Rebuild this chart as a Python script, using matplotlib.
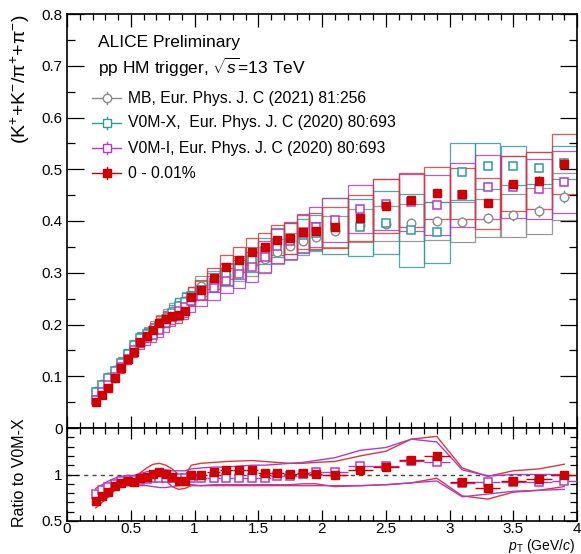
import matplotlib
matplotlib.use("Agg")
import matplotlib.pyplot as plt
import numpy as np
from matplotlib.patches import Rectangle
from matplotlib.ticker import MultipleLocator, FixedLocator, NullFormatter
from matplotlib.lines import Line2D

plt.rcParams['font.family'] = ['Liberation Sans', 'DejaVu Sans']
plt.rcParams['mathtext.fontset'] = 'custom'
plt.rcParams['mathtext.rm'] = 'Liberation Sans'
plt.rcParams['mathtext.it'] = 'Liberation Sans:italic'
plt.rcParams['mathtext.bf'] = 'Liberation Sans:bold'

# ---------------- data ----------------
pt_edges = [0.20, 0.25, 0.30, 0.35, 0.40, 0.45, 0.50, 0.55, 0.60, 0.65, 0.70,
            0.75, 0.80, 0.85, 0.90, 0.95, 1.00, 1.10, 1.20, 1.30, 1.40, 1.50,
            1.60, 1.70, 1.80, 1.90, 2.00, 2.20, 2.40, 2.60, 2.80, 3.00, 3.20,
            3.40, 3.60, 3.80, 4.00]

# 0 - 0.01 %
hm_val = [0.0495, 0.064, 0.078, 0.0965, 0.115, 0.133, 0.147, 0.167, 0.178, 0.190,
          0.203, 0.211, 0.216, 0.218, 0.227, 0.254, 0.267, 0.289, 0.311, 0.325,
          0.341, 0.349, 0.363, 0.367, 0.378, 0.380, 0.388, 0.406, 0.429, 0.441,
          0.454, 0.453, 0.434, 0.472, 0.478, 0.510]
hm_stat = [0.001, 0.001, 0.001, 0.001, 0.001, 0.001, 0.001, 0.001, 0.001, 0.001,
           0.001, 0.001, 0.001, 0.001, 0.001, 0.002, 0.002, 0.002, 0.002, 0.002,
           0.002, 0.003, 0.003, 0.003, 0.003, 0.004, 0.003, 0.004, 0.004, 0.005,
           0.006, 0.006, 0.007, 0.008, 0.009, 0.010]
hm_sys = [0.004, 0.005, 0.006, 0.007, 0.008, 0.009, 0.010, 0.011, 0.012, 0.013,
          0.014, 0.015, 0.015, 0.016, 0.016, 0.018, 0.019, 0.021, 0.023, 0.024,
          0.026, 0.027, 0.029, 0.031, 0.033, 0.035, 0.040, 0.045, 0.052, 0.052,
          0.051, 0.050, 0.050, 0.053, 0.055, 0.058]

# V0M-X
v0x_val = [0.0697, 0.083, 0.096, 0.110, 0.126, 0.143, 0.160, 0.174, 0.182, 0.188,
           0.198, 0.210, 0.223, 0.235, 0.244, 0.255, 0.267, 0.281, 0.297, 0.310,
           0.325, 0.342, 0.358, 0.366, 0.372, 0.377, 0.391, 0.388, 0.397, 0.382,
           0.378, 0.495, 0.506, 0.507, 0.502, 0.513]
v0x_stat = [0.001, 0.001, 0.001, 0.001, 0.001, 0.001, 0.001, 0.001, 0.001, 0.001,
            0.001, 0.001, 0.001, 0.001, 0.001, 0.002, 0.002, 0.002, 0.002, 0.002,
            0.002, 0.002, 0.003, 0.003, 0.003, 0.003, 0.003, 0.004, 0.004, 0.005,
            0.005, 0.006, 0.006, 0.007, 0.008, 0.009]
v0x_sys = [0.005, 0.006, 0.007, 0.008, 0.009, 0.010, 0.011, 0.012, 0.012, 0.013,
           0.013, 0.014, 0.015, 0.016, 0.016, 0.017, 0.018, 0.019, 0.021, 0.022,
           0.024, 0.026, 0.028, 0.030, 0.032, 0.034, 0.054, 0.055, 0.061, 0.070,
           0.059, 0.055, 0.044, 0.037, 0.031, 0.031]

# V0M-I
v0i_val = [0.055, 0.069, 0.083, 0.099, 0.117, 0.134, 0.150, 0.164, 0.173, 0.180,
           0.190, 0.202, 0.214, 0.226, 0.234, 0.245, 0.256, 0.270, 0.285, 0.298,
           0.312, 0.330, 0.351, 0.362, 0.376, 0.388, 0.402, 0.423, 0.432, 0.436,
           0.430, 0.450, 0.466, 0.466, 0.462, 0.475]
v0i_stat = [0.001, 0.001, 0.001, 0.001, 0.001, 0.001, 0.001, 0.001, 0.001, 0.001,
            0.001, 0.001, 0.001, 0.001, 0.001, 0.001, 0.002, 0.002, 0.002, 0.002,
            0.002, 0.002, 0.002, 0.003, 0.003, 0.003, 0.003, 0.003, 0.004, 0.004,
            0.005, 0.005, 0.006, 0.006, 0.007, 0.008]
v0i_sys = [0.0045, 0.0055, 0.0065, 0.008, 0.009, 0.010, 0.011, 0.012, 0.013, 0.014,
           0.015, 0.016, 0.017, 0.018, 0.019, 0.020, 0.021, 0.023, 0.025, 0.027,
           0.029, 0.031, 0.033, 0.035, 0.037, 0.039, 0.042, 0.046, 0.050, 0.055,
           0.058, 0.062, 0.062, 0.060, 0.058, 0.060]

# MB
mb_val = [0.072, 0.085, 0.099, 0.112, 0.128, 0.143, 0.158, 0.171, 0.183, 0.194,
          0.205, 0.215, 0.226, 0.236, 0.246, 0.255, 0.274, 0.283, 0.296, 0.306,
          0.317, 0.326, 0.341, 0.351, 0.362, 0.370, 0.380, 0.392, 0.395, 0.397,
          0.400, 0.398, 0.406, 0.411, 0.419, 0.447]
mb_stat = [0.001, 0.001, 0.001, 0.001, 0.001, 0.001, 0.001, 0.001, 0.001, 0.001,
           0.001, 0.001, 0.001, 0.001, 0.001, 0.002, 0.002, 0.002, 0.002, 0.002,
           0.002, 0.003, 0.003, 0.003, 0.003, 0.004, 0.004, 0.005, 0.006, 0.007,
           0.008, 0.009, 0.010, 0.011, 0.012, 0.013]
mb_sys = [0.005, 0.006, 0.007, 0.008, 0.009, 0.010, 0.011, 0.012, 0.013, 0.013,
          0.014, 0.015, 0.016, 0.016, 0.017, 0.018, 0.019, 0.020, 0.021, 0.022,
          0.023, 0.024, 0.025, 0.026, 0.027, 0.028, 0.030, 0.032, 0.034, 0.035,
          0.036, 0.038, 0.037, 0.041, 0.044, 0.046]

# ratio-panel uncertainty bands (ratio to V0M-X)
hm_band_lo = [0.64, 0.70, 0.76, 0.83, 0.87, 0.89, 0.87, 0.91, 0.93, 0.96,
              0.97, 0.93, 0.87, 0.84, 0.85, 0.88, 0.88, 0.89, 0.89, 0.89,
              0.89, 0.89, 0.89, 0.89, 0.90, 0.90, 0.87, 0.88, 0.89, 0.91,
              0.96, 0.77, 0.735, 0.81, 0.83, 0.87]
hm_band_hi = [0.77, 0.82, 0.86, 0.92, 0.95, 0.97, 0.96, 1.02, 1.07, 1.11,
              1.12, 1.10, 1.06, 1.00, 0.99, 1.10, 1.12, 1.13, 1.14, 1.145,
              1.15, 1.14, 1.13, 1.12, 1.12, 1.13, 1.14, 1.20, 1.25, 1.38,
              1.41, 1.07, 0.98, 1.04, 1.06, 1.11]
v0i_band_lo = [0.73, 0.77, 0.80, 0.84, 0.87, 0.88, 0.88, 0.88, 0.88, 0.87,
               0.86, 0.86, 0.87, 0.88, 0.89, 0.89, 0.88, 0.88, 0.88, 0.88,
               0.88, 0.88, 0.88, 0.88, 0.88, 0.88, 0.88, 0.88, 0.89, 0.91,
               0.93, 0.76, 0.79, 0.82, 0.83, 0.84]
v0i_band_hi = [0.85, 0.89, 0.93, 0.96, 0.98, 0.99, 0.99, 1.01, 1.03, 1.04,
               1.05, 1.05, 1.04, 1.04, 1.04, 1.06, 1.07, 1.08, 1.08, 1.09,
               1.10, 1.10, 1.11, 1.12, 1.13, 1.15, 1.18, 1.26, 1.29, 1.38,
               1.35, 1.05, 0.985, 1.00, 1.00, 1.00]

legend_labels = ["MB, Eur. Phys. J. C (2021) 81:256",
                 "V0M-X,  Eur. Phys. J. C (2020) 80:693",
                 "V0M-I, Eur. Phys. J. C (2020) 80:693",
                 "0 - 0.01%"]

# ---------------- styles ----------------
c_mb = "#8a8a8a"
c_x = "#2a9d9f"
c_i = "#b23ac8"
c_hm = "#d00000"
c_hm_box = "#dc3838"

edges = np.array(pt_edges)
xc = 0.5 * (edges[:-1] + edges[1:])
xw = 0.5 * (edges[1:] - edges[:-1])

W, H = 581, 554
fig = plt.figure(figsize=(W / 100, H / 100), dpi=100)
L, R = 67, 577
ax = fig.add_axes([L / W, 1 - 428 / H, (R - L) / W, (428 - 14) / H])
axr = fig.add_axes([L / W, 1 - 521 / H, (R - L) / W, (521 - 428) / H])


def boxes(a, val, sys, color, lw=0.9, alpha=0.85):
    for x0, x1, v, s in zip(edges[:-1], edges[1:], val, sys):
        a.add_patch(Rectangle((x0, v - s), x1 - x0, 2 * s, fill=False,
                              edgecolor=color, lw=lw, alpha=alpha, zorder=2))


boxes(ax, mb_val, mb_sys, c_mb)
boxes(ax, v0x_val, v0x_sys, c_x)
boxes(ax, v0i_val, v0i_sys, c_i)
boxes(ax, hm_val, hm_sys, c_hm_box)

ax.errorbar(xc, mb_val, yerr=mb_stat, fmt='none', ecolor=c_mb, elinewidth=1.0,
            capsize=0, zorder=3)
ax.plot(xc, mb_val, ls='none', marker='o', ms=6.2, mfc='white', mec=c_mb, mew=1.0, zorder=4)
ax.errorbar(xc, v0x_val, yerr=v0x_stat, fmt='none', ecolor=c_x, elinewidth=1.0,
            capsize=0, zorder=3)
ax.plot(xc, v0x_val, ls='none', marker='s', ms=5.6, mfc='white', mec=c_x, mew=1.1, zorder=5)
ax.errorbar(xc, v0i_val, yerr=v0i_stat, fmt='none', ecolor=c_i, elinewidth=1.0,
            capsize=0, zorder=3)
ax.plot(xc, v0i_val, ls='none', marker='s', ms=5.6, mfc='white', mec=c_i, mew=1.1, zorder=6)
ax.errorbar(xc, hm_val, yerr=hm_stat, fmt='s', ms=5.8, mfc=c_hm, mec=c_hm,
            ecolor=c_hm, elinewidth=1.0, capsize=0, zorder=7)

ax.set_xlim(0, 4)
ax.set_ylim(0, 0.8)
ax.xaxis.set_major_locator(MultipleLocator(0.5))
ax.xaxis.set_minor_locator(MultipleLocator(0.1))
ax.yaxis.set_major_locator(MultipleLocator(0.1))
ax.yaxis.set_minor_locator(MultipleLocator(0.05))
ax.xaxis.set_major_formatter(NullFormatter())
ax.tick_params(which='both', direction='in', top=True, right=True, labelsize=11, pad=3)
ax.tick_params(axis='y', which='major', length=12, width=0.9)
ax.tick_params(axis='y', which='minor', length=6, width=0.9)
ax.tick_params(axis='x', which='major', length=9, width=0.9)
ax.tick_params(axis='x', which='minor', length=4.5, width=0.9)
ax.set_yticks(np.round(np.arange(0, 0.81, 0.1), 1))
ax.set_yticklabels(["0", "0.1", "0.2", "0.3", "0.4", "0.5", "0.6", "0.7", "0.8"])
for sp in ax.spines.values():
    sp.set_linewidth(1.2)

# texts
def px(x, y):
    return ((x - L) / (R - L), (428 - y) / (428 - 14))

ax.text(*px(98, 43), "ALICE Preliminary", transform=ax.transAxes, fontsize=12.5,
        va='center', ha='left')
ax.text(*px(98, 67), r"pp HM trigger, $\sqrt{s}$=13 TeV", transform=ax.transAxes,
        fontsize=12.5, va='center', ha='left')

leg_y = [98, 123, 148, 173]
leg_style = [dict(marker='o', mfc='white', mec=c_mb, color=c_mb),
             dict(marker='s', mfc='white', mec=c_x, color=c_x),
             dict(marker='s', mfc='white', mec=c_i, color=c_i),
             dict(marker='s', mfc=c_hm, mec=c_hm, color=c_hm)]
for yy, lab, st in zip(leg_y, legend_labels, leg_style):
    x0, y0 = px(92, yy)
    x1, _ = px(121, yy)
    xm, _ = px(106.5, yy)
    _, ya = px(0, yy - 6)
    _, yb = px(0, yy + 6)
    col = st['color']
    ax.add_line(Line2D([x0, x1], [y0, y0], color=col, lw=1.0, transform=ax.transAxes, zorder=8))
    ax.add_line(Line2D([xm, xm], [yb, ya], color=col, lw=1.0, transform=ax.transAxes, zorder=8))
    ax.plot([xm], [y0], transform=ax.transAxes, ls='none', marker=st['marker'],
            ms=6, mfc=st['mfc'], mec=st['mec'], mew=1.0, zorder=9)
    ax.text(*px(128, yy), lab, transform=ax.transAxes, fontsize=11.3,
            va='center', ha='left')

fig.text(20 / W, 1 - 15 / H, r"(K$^{+}$+K$^{-}$/π$^{+}$+π$^{-}$)", rotation=90,
         ha='center', va='top', fontsize=14)

# ---------------- ratio panel ----------------
v0x = np.array(v0x_val)
r_hm = np.array(hm_val) / v0x
r_i = np.array(v0i_val) / v0x
r_hm_err = np.array(hm_stat) / v0x
r_i_err = np.array(v0i_stat) / v0x

axr.axhline(1.0, color='#444444', ls=(0, (3, 3)), lw=1.0, zorder=1)
axr.plot(xc, hm_band_lo, color=c_hm_box, lw=1.0, zorder=2)
axr.plot(xc, hm_band_hi, color=c_hm_box, lw=1.0, zorder=2)
axr.plot(xc, v0i_band_lo, color=c_i, lw=1.0, zorder=2)
axr.plot(xc, v0i_band_hi, color=c_i, lw=1.0, zorder=2)

axr.errorbar(xc, r_i, xerr=xw, yerr=r_i_err, fmt='none', ecolor=c_i,
             elinewidth=1.0, capsize=0, zorder=3)
axr.plot(xc, r_i, ls='none', marker='s', ms=5.6, mfc='white', mec=c_i, mew=1.1, zorder=4)
axr.errorbar(xc, r_hm, xerr=xw, yerr=r_hm_err, fmt='s', ms=5.8, mfc=c_hm, mec=c_hm,
             ecolor=c_hm, elinewidth=1.0, capsize=0, zorder=5)

axr.set_xlim(0, 4)
axr.set_ylim(0.5, 1.5)
axr.xaxis.set_major_locator(MultipleLocator(0.5))
axr.xaxis.set_minor_locator(MultipleLocator(0.1))
axr.yaxis.set_major_locator(FixedLocator([0.5, 1.0, 1.5]))
axr.yaxis.set_minor_locator(MultipleLocator(0.1))
axr.set_yticks([0.5, 1.0, 1.5])
axr.set_yticklabels(["0.5", "1", ""])
axr.set_xticks(np.arange(0, 4.01, 0.5))
axr.set_xticklabels(["0", "0.5", "1", "1.5", "2", "2.5", "3", "3.5", "4"])
axr.tick_params(which='both', direction='in', top=True, right=True, labelsize=11, pad=3)
axr.tick_params(axis='y', which='major', length=8, width=0.9)
axr.tick_params(axis='y', which='minor', length=5, width=0.9)
axr.tick_params(axis='x', which='major', length=8, width=0.9, pad=1)
axr.tick_params(axis='x', which='minor', length=4, width=0.9)
for sp in axr.spines.values():
    sp.set_linewidth(1.2)

fig.text(20 / W, 1 - 473 / H, "Ratio to V0M-X", rotation=90, ha='center', va='center',
         fontsize=11.5)
fig.text(575 / W, 1 - 546 / H, r"$p_{\rm T}$ (GeV/$c$)", ha='right', va='center',
         fontsize=10)

fig.savefig("out.png", dpi=100)
